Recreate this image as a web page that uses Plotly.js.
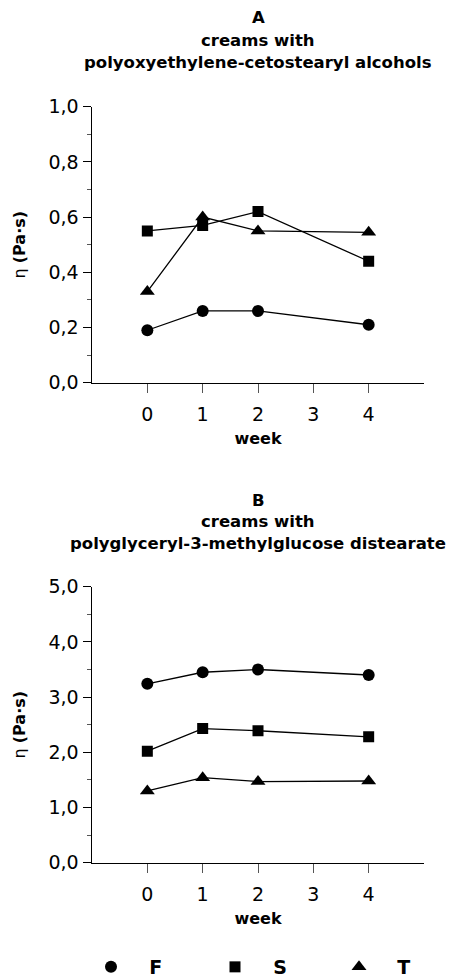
<!DOCTYPE html>
<html>
<head>
<meta charset="utf-8">
<script src="https://cdn.plot.ly/plotly-3.0.1.min.js"></script>
<style>
  html, body { margin: 0; padding: 0; background: #fff; }
  #chart { width: 452px; height: 979px; }
</style>
</head>
<body>
<div id="chart"></div>
<script>
// ---- data ----
const weeks = [0, 1, 2, 4];
const xTickVals = [0, 1, 2, 3, 4];
const seriesNames = ["F", "S", "T"];

// Panel A: creams with polyoxyethylene-cetostearyl alcohols
const A_F = [0.19, 0.26, 0.26, 0.21];
const A_S = [0.55, 0.57, 0.62, 0.44];
const A_T = [0.33, 0.60, 0.55, 0.545];

// Panel B: creams with polyglyceryl-3-methylglucose distearate
const B_F = [3.24, 3.45, 3.50, 3.40];
const B_S = [2.02, 2.43, 2.39, 2.28];
const B_T = [1.30, 1.54, 1.47, 1.48];

const titleA = ["A", "creams with", "polyoxyethylene-cetostearyl alcohols"];
const titleB = ["B", "creams with", "polyglyceryl-3-methylglucose distearate"];
const yTitle = "η <b>(Pa·s)</b>";
const xTitle = "week";

// ---- styles ----
const FONT = "DejaVu Sans, Arial, sans-serif";
const symbols = ["circle", "square", "triangle-up"];
const sizes = [12, 11, 13];

const traces = [];
function addPanel(vals, xa, ya, legend) {
  vals.forEach((v, i) => {
    traces.push({
      x: weeks, y: v, xaxis: xa, yaxis: ya, type: "scatter", mode: "lines",
      line: { color: "#000", width: 1.3 }, showlegend: false, hoverinfo: "skip"
    });
    traces.push({
      x: weeks, y: v, xaxis: xa, yaxis: ya, type: "scatter", mode: "markers",
      name: "&nbsp;&nbsp;&nbsp;<b>" + seriesNames[i] + "</b>",
      marker: { color: "#000", symbol: symbols[i], size: sizes[i] },
      showlegend: legend
    });
  });
}
addPanel([A_F, A_S, A_T], "x", "y", true);
addPanel([B_F, B_S, B_T], "x2", "y2", false);

function xAxis(anchor) {
  return {
    anchor: anchor, domain: [0, 1], range: [-1, 5], tickvals: xTickVals,
    ticks: "outside", ticklen: 9, tickwidth: 1, tickcolor: "#555",
    showline: true, linecolor: "#000", linewidth: 1.5,
    showgrid: false, zeroline: false, fixedrange: true,
    tickfont: { family: FONT, size: 19, color: "#000" },
    ticklabelstandoff: 5,
    title: { text: "<b>" + xTitle + "</b>", font: { family: FONT, size: 16, color: "#000" }, standoff: 9 }
  };
}
function yAxis(anchor, domain, max, dt) {
  return {
    anchor: anchor, domain: domain, range: [0, max], dtick: dt, tick0: 0,
    tickformat: ".1f",
    ticks: "outside", ticklen: 8, tickwidth: 1, tickcolor: "#000",
    minor: { dtick: dt / 2, ticks: "outside", ticklen: 4, tickcolor: "#555", showgrid: false },
    showline: true, linecolor: "#000", linewidth: 1.5,
    showgrid: false, zeroline: false, fixedrange: true,
    tickfont: { family: FONT, size: 19, color: "#000" },
    title: { text: yTitle, font: { family: FONT, size: 16, color: "#000" }, standoff: 19 }
  };
}

const H = 979, MB = 30;
const PH = H - MB;            // plot-area height (top margin is 0)
const pf = px => (PH - px) / PH;

function titleAnn(lines, ys) {
  return lines.map((t, i) => ({
    xref: "paper", yref: "paper", x: 0.5, y: pf(ys[i]), xanchor: "center", yanchor: "middle",
    text: "<b>" + t + "</b>", showarrow: false,
    font: { family: FONT, size: 16.5, color: "#000" }
  }));
}

const layout = {
  width: 452, height: 979,
  margin: { l: 92, r: 28, t: 0, b: MB, autoexpand: false },
  paper_bgcolor: "#fff", plot_bgcolor: "#fff",
  separators: ", ",
  showlegend: true,
  legend: {
    orientation: "h", x: (91 - 92) / 332, xanchor: "left", y: pf(967), yanchor: "middle",
    font: { family: FONT, size: 19, color: "#000" },
    entrywidth: 79, entrywidthmode: "pixels", itemclick: false, itemdoubleclick: false,
    bgcolor: "rgba(0,0,0,0)"
  },
  xaxis: xAxis("y"),
  yaxis: yAxis("x", [pf(382.7), pf(106.7)], 1.0, 0.2),
  xaxis2: xAxis("y2"),
  yaxis2: yAxis("x2", [pf(862.7), pf(586.7)], 5.0, 1.0),
  annotations: titleAnn(titleA, [18, 40, 63]).concat(titleAnn(titleB, [500, 521, 543]))
};

Plotly.newPlot("chart", traces, layout, { displayModeBar: false, staticPlot: true });
</script>
</body>
</html>
